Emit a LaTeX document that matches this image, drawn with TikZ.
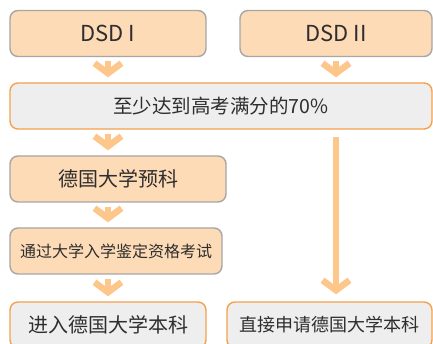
\documentclass[tikz,border=0pt]{standalone}
\usepackage{fontspec}
\setmainfont{Noto Sans CJK SC}
\usepackage{xcolor}
\usepackage{tikz}
\usetikzlibrary{positioning,arrows.meta}
\definecolor{peachfill}{HTML}{FDDBB6}
\definecolor{greyedge}{HTML}{A6A6A6}
\definecolor{goalfill}{HTML}{EEEEEE}
\definecolor{goaledge}{HTML}{F5A04A}
\definecolor{flowline}{HTML}{FDC68A}
\definecolor{inktext}{HTML}{2E2E2E}

\begin{document}
\begin{tikzpicture}[
    x=1pt, y=-1pt,
    box/.style={rounded corners=8pt, line width=1.4pt, minimum height=46pt,
                text=inktext, inner sep=0pt},
    stage/.style={box, fill=peachfill, draw=greyedge},
    goal/.style={box, fill=goalfill, draw=goaledge},
    flow/.style={draw=flowline, line width=6.5pt,
                 -{Straight Barb[length=10pt,width=27pt]},
                 shorten <=4pt, shorten >=5pt},
]
\useasboundingbox (0,0) rectangle (433,344);

% top row
\node[stage, minimum width=196pt, font=\fontsize{22}{24}\selectfont]
    (dsd1) at (108,33.5) {DSD I};
\node[stage, minimum width=192pt, font=\fontsize{22}{24}\selectfont]
    (dsd2) at (336,33.5) {DSD II};

\node[goal, minimum width=422pt, font=\fontsize{19.5}{21}\selectfont]
    (req) at (221,106) {至少达到高考满分的70\%};

% left path
\node[stage, minimum width=216pt, font=\fontsize{20}{22}\selectfont]
    (prep) at (118,179) {德国大学预科};
\node[stage, minimum width=212pt, font=\fontsize{16}{18}\selectfont]
    (exam) at (116,251) {通过大学入学鉴定资格考试};
\node[goal, minimum width=196pt, font=\fontsize{20}{22}\selectfont]
    (bach) at (108,325) {进入德国大学本科};

% right path
\node[goal, minimum width=205pt, font=\fontsize{18}{20}\selectfont]
    (direct) at (329.5,325) {直接申请德国大学本科};

\draw[flow] (dsd1) -- (dsd1 |- req.north);
\draw[flow] (dsd2) -- (dsd2 |- req.north);
\draw[flow] (req.south -| dsd1) -- (prep.north -| dsd1);
\draw[flow] (prep.south -| dsd1) -- (exam.north -| dsd1);
\draw[flow] (exam.south -| dsd1) -- (bach.north -| dsd1);
\draw[flow, shorten <=7pt, shorten >=7pt] (req.south -| dsd2) -- (direct.north -| dsd2);
\end{tikzpicture}
\end{document}
